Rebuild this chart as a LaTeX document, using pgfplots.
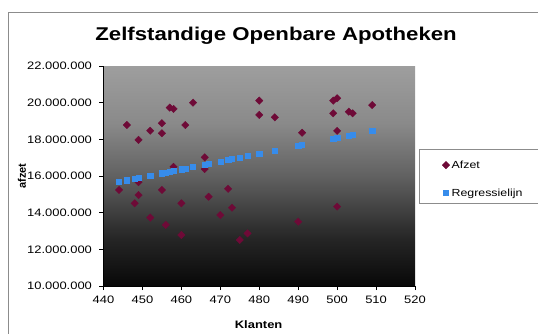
\documentclass[border=0pt]{standalone}
\usepackage{fontspec}
\setmainfont{Liberation Sans}[FakeStretch=1.2]
\newfontfamily\plainfont{Liberation Sans}
\usepackage{pgfplots}
\pgfplotsset{compat=1.18}
\definecolor{afzetc}{RGB}{110,10,55}
\definecolor{regc}{RGB}{55,140,235}
\pgfdeclareverticalshading{plotbg}{100bp}{color(0bp)=(black!97); color(25bp)=(black!97); color(36bp)=(black!85); color(50bp)=(black!62); color(62bp)=(black!46); color(75bp)=(black!38); color(100bp)=(black!38)}
\begin{document}
\begin{tikzpicture}
\begin{axis}[
  at={(103.5pt,47pt)}, anchor=south west,
  scale only axis, width=311.5pt, height=220pt,
  xmin=440, xmax=520, ymin=10000000, ymax=22000000,
  xtick={440,450,...,520},
  ytick={10000000,12000000,14000000,16000000,18000000,20000000,22000000},
  scaled y ticks=false,
  /pgf/number format/.cd, fixed, precision=0, 1000 sep={.}, assume math mode=true,
  /pgfplots/.cd,
  axis lines=left, axis line style={-, black, line width=0.7pt},
  tick align=outside, major tick length=4pt,
  tick style={black, line width=0.7pt},
  ticklabel style={font=\fontsize{10.8}{12}\selectfont},
  xticklabel style={yshift=-2pt},
  yticklabel style={xshift=-4pt},
  axis background/.style={shading=plotbg},
  title={\fontsize{18.5}{22}\selectfont\bfseries Zelfstandige Openbare Apotheken},
  title style={at={(axis description cs:0.554,1.109)}, anchor=center},
  xlabel={\fontsize{10.8}{12}\selectfont\bfseries Klanten},
  xlabel style={at={(axis description cs:0.498,-0.177)}, anchor=center},
  ylabel={\plainfont\fontsize{11}{12}\selectfont\bfseries afzet},
  every axis y label/.style={at={(axis description cs:-0.262,0.5)}, anchor=center, rotate=90},
  clip=false,
  legend style={draw=none, fill=none, inner sep=0pt, at={(axis description cs:1.087,0.58)}, anchor=north west,
    font=\fontsize{10.3}{12}\selectfont, row sep=15pt, legend cell align=left},
  legend image code/.code={\draw[mark repeat=2,mark phase=2,#1] plot coordinates {(0pt,0pt)(4pt,0pt)(8pt,0pt)};},
]
\addplot[only marks, mark=square*, mark size=2.6pt, mark options={rotate=45, fill=afzetc, draw=afzetc}] coordinates {
(444,15240000) (446,18780000) (448,14510000) (449,17970000) (449,15660000)
(449,14960000) (452,18470000) (452,13730000) (455,18880000) (455,18330000)
(455,15240000) (456,13330000) (457,19730000) (458,19660000) (458,16500000)
(460,14510000) (460,12780000) (461,18780000) (463,20000000) (466,17020000)
(466,16380000) (467,14870000) (470,13870000) (472,15300000) (473,14270000)
(475,12510000) (477,12870000) (480,20110000) (480,19330000) (484,19200000)
(490,13510000) (491,18360000) (499,20110000) (500,20240000) (499,19420000)
(503,19510000) (504,19420000) (500,18460000) (500,14330000) (509,19870000)
};
\addlegendentry{Afzet}
\addplot[only marks, mark=square*, mark size=2.6pt, mark options={fill=regc, draw=regc}] coordinates {
(444,15685000) (446,15771000) (448,15857000) (449,15900000) (452,16028000)
(455,16157000) (456,16200000) (457,16243000) (458,16286000) (460,16371000)
(461,16414000) (463,16500000) (466,16629000) (467,16672000) (470,16800000)
(472,16886000) (473,16929000) (475,17015000) (477,17101000) (480,17229000)
(484,17401000) (490,17658000) (491,17701000) (499,18044000) (500,18087000)
(503,18215000) (504,18259000) (509,18473000)
};
\addlegendentry{Regressielijn}
\end{axis}
\draw[black!45, line width=0.8pt] (8pt,-60pt) rectangle (640pt,321pt);
\draw[black!45, line width=0.8pt] (419pt,130pt) rectangle (640pt,184pt);
\pgfresetboundingbox
\path[use as bounding box] (0,0) rectangle (538pt,333pt);
\end{tikzpicture}
\end{document}
